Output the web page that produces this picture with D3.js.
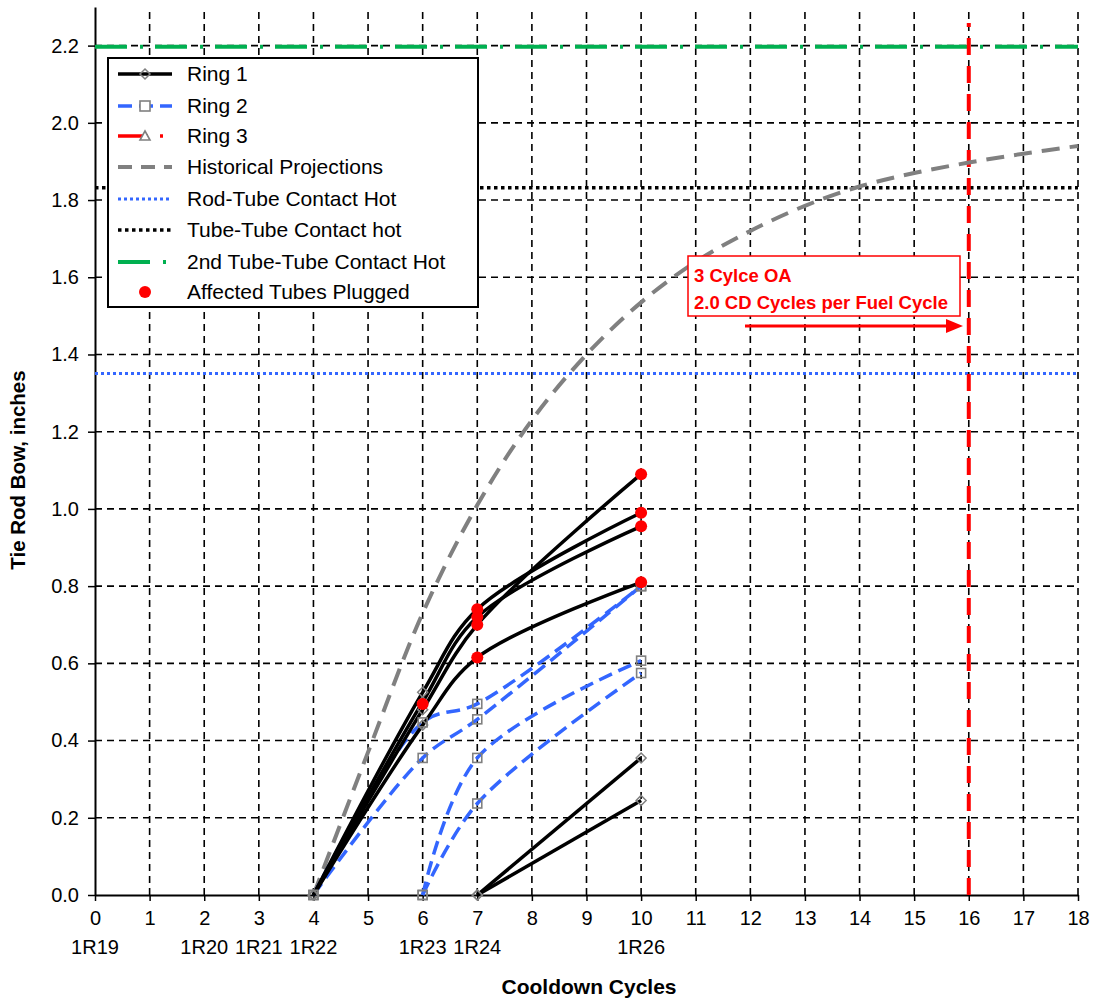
<!DOCTYPE html>
<html>
<head>
<meta charset="utf-8">
<script src="https://cdn.jsdelivr.net/npm/d3@7"></script>
<style>
  body { margin: 0; background: #fff; }
  text { font-family: "Liberation Sans", Arial, sans-serif; }
</style>
</head>
<body>
<div id="chart"></div>
<script>
// cooldown cycle ticks and the outage labels under them
var cycleTicks = d3.range(0, 19);
var outageCycles = [0, 2, 3, 4, 6, 7, 10];
var outageLabels = ["1R19", "1R20", "1R21", "1R22", "1R23", "1R24", "1R26"];
var bowTicks = [0, 0.2, 0.4, 0.6, 0.8, 1.0, 1.2, 1.4, 1.6, 1.8, 2.0, 2.2];

// Ring 1 tubes (black)
var ring1 = [
  { x: [4, 6, 7, 10], y: [0, 0.525, 0.74, 0.99] },
  { x: [4, 6, 7, 10], y: [0, 0.50, 0.72, 0.955] },
  { x: [4, 6, 7, 10], y: [0, 0.48, 0.70, 1.09] },
  { x: [4, 6, 7, 10], y: [0, 0.44, 0.615, 0.81] },
  { x: [7, 10], y: [0, 0.355] },
  { x: [7, 10], y: [0, 0.245] }
];

// Ring 2 tubes (blue dashed)
var ring2 = [
  { x: [4, 6, 7, 10], y: [0, 0.447, 0.495, 0.80] },
  { x: [4, 6, 7, 10], y: [0, 0.355, 0.455, 0.80] },
  { x: [6, 7, 10], y: [0, 0.355, 0.607] },
  { x: [6, 7, 10], y: [0, 0.237, 0.575] }
];

// historical projection curve
var histX = [4, 5, 6, 7, 8, 9, 10, 11, 12, 13, 14, 15, 16, 17, 18];
var histY = [0, 0.37, 0.73, 1.01, 1.23, 1.40, 1.535, 1.64, 1.72, 1.785, 1.835, 1.87, 1.897, 1.92, 1.94];

// plugged tubes
var plugX = [6, 7, 7, 7, 7, 10, 10, 10, 10];
var plugY = [0.495, 0.74, 0.72, 0.70, 0.615, 1.09, 0.99, 0.955, 0.81];

// contact limits
var rodTubeHot = 1.351;
var tubeTubeHot = 1.832;
var tubeTube2Hot = 2.197;
var oaCycle = 16;

var width = 1098, height = 1000;
var margin = { top: 7, right: 20, bottom: 105, left: 95 };

var svg = d3.select("#chart").append("svg")
  .attr("width", width)
  .attr("height", height);

var x = d3.scaleLinear().domain([0, 18]).range([margin.left, 1078]);
var y = d3.scaleLinear().domain([0, 2.3]).range([height - margin.bottom, margin.top]);

// grid
svg.append("g").selectAll("line")
  .data(cycleTicks.filter(function(d) { return d > 0; }))
  .enter().append("line")
  .attr("x1", function(d) { return x(d); })
  .attr("x2", function(d) { return x(d); })
  .attr("y1", y(0))
  .attr("y2", 12)
  .attr("stroke", "#000")
  .attr("stroke-width", 1.6)
  .attr("stroke-dasharray", "7,5");

svg.append("g").selectAll("line")
  .data(bowTicks.filter(function(d) { return d > 0; }))
  .enter().append("line")
  .attr("x1", x(0))
  .attr("x2", x(18))
  .attr("y1", function(d) { return y(d); })
  .attr("y2", function(d) { return y(d); })
  .attr("stroke", "#000")
  .attr("stroke-width", 1.6)
  .attr("stroke-dasharray", "7,5");

// axes
var xAxis = d3.axisBottom(x).tickValues(cycleTicks).tickSize(6).tickSizeOuter(0).tickFormat(d3.format("d"));
var yAxis = d3.axisLeft(y).tickValues(bowTicks).tickSize(7).tickSizeOuter(0).tickFormat(d3.format(".1f"));

var gx = svg.append("g")
  .attr("transform", "translate(0," + y(0) + ")")
  .call(xAxis);
gx.select(".domain").attr("stroke-width", 2);
gx.selectAll(".tick line").attr("stroke-width", 1.5);
gx.selectAll(".tick text").attr("font-size", 20).attr("y", 11).attr("dy", "0.95em").attr("fill", "#000")
  .style("font-family", "Liberation Sans, Arial, sans-serif");

var gy = svg.append("g")
  .attr("transform", "translate(" + x(0) + ",0)")
  .call(yAxis);
gy.select(".domain").attr("stroke-width", 2);
gy.selectAll(".tick line").attr("stroke-width", 1.5);
gy.selectAll(".tick text").attr("font-size", 20).attr("x", -16).attr("fill", "#000")
  .style("font-family", "Liberation Sans, Arial, sans-serif");

// outage labels
svg.append("g").selectAll("text")
  .data(outageCycles)
  .enter().append("text")
  .attr("x", function(d) { return x(d); })
  .attr("y", 954)
  .attr("text-anchor", "middle")
  .attr("font-size", 20)
  .text(function(d, i) { return outageLabels[i]; });

// axis titles
svg.append("text")
  .attr("x", 589)
  .attr("y", 994)
  .attr("text-anchor", "middle")
  .attr("font-size", 21)
  .attr("font-weight", "bold")
  .text("Cooldown Cycles");

svg.append("text")
  .attr("transform", "translate(25," + 470 + ") rotate(-90)")
  .attr("text-anchor", "middle")
  .attr("font-size", 20.5)
  .attr("font-weight", "bold")
  .text("Tie Rod Bow, inches");

// horizontal limits
function hline(v, color, w, dash) {
  svg.append("line")
    .attr("x1", x(0)).attr("x2", x(18))
    .attr("y1", y(v)).attr("y2", y(v))
    .attr("stroke", color)
    .attr("stroke-width", w)
    .attr("stroke-dasharray", dash);
}
hline(rodTubeHot, "#3366ff", 3, "3,3");
hline(tubeTubeHot, "#000", 3.5, "3.5,3.5");
hline(tubeTube2Hot, "#00b050", 4, "32,13,3,12");

// OA vertical
svg.append("line")
  .attr("x1", x(oaCycle)).attr("x2", x(oaCycle))
  .attr("y1", y(0)).attr("y2", 23)
  .attr("stroke", "#ff0000")
  .attr("stroke-width", 4)
  .attr("stroke-dasharray", "17,11");

var line = d3.line()
  .x(function(d) { return x(d[0]); })
  .y(function(d) { return y(d[1]); })
  .curve(d3.curveCatmullRom.alpha(0.5));

function pts(s) {
  return s.x.map(function(v, i) { return [v, s.y[i]]; });
}

// historical projection
svg.append("path")
  .attr("d", line(histX.map(function(v, i) { return [v, histY[i]]; })))
  .attr("fill", "none")
  .attr("stroke", "#808080")
  .attr("stroke-width", 4)
  .attr("stroke-dasharray", "18,10");

// ring 2
ring2.forEach(function(s) {
  svg.append("path")
    .attr("d", line(pts(s)))
    .attr("fill", "none")
    .attr("stroke", "#3366ff")
    .attr("stroke-width", 3.5)
    .attr("stroke-dasharray", "14,7");
});

// ring 1
ring1.forEach(function(s) {
  svg.append("path")
    .attr("d", line(pts(s)))
    .attr("fill", "none")
    .attr("stroke", "#000")
    .attr("stroke-width", 3.5);
});

function square(g, cx, cy) {
  g.append("rect")
    .attr("x", cx - 4.5).attr("y", cy - 4.5)
    .attr("width", 9).attr("height", 9)
    .attr("fill", "none")
    .attr("stroke", "#808080")
    .attr("stroke-width", 1.6);
}
function diamond(g, cx, cy) {
  g.append("path")
    .attr("d", "M" + cx + "," + (cy - 5) + "L" + (cx + 5) + "," + cy + "L" + cx + "," + (cy + 5) + "L" + (cx - 5) + "," + cy + "Z")
    .attr("fill", "none")
    .attr("stroke", "#808080")
    .attr("stroke-width", 1.5);
}

var markers = svg.append("g");
ring2.forEach(function(s) {
  pts(s).forEach(function(p) { square(markers, x(p[0]), y(p[1])); });
});
ring1.forEach(function(s) {
  pts(s).forEach(function(p) { diamond(markers, x(p[0]), y(p[1])); });
});

// plugged tubes
svg.append("g").selectAll("circle")
  .data(plugX)
  .enter().append("circle")
  .attr("cx", function(d) { return x(d); })
  .attr("cy", function(d, i) { return y(plugY[i]); })
  .attr("r", 6)
  .attr("fill", "#ff0000");

// annotation
svg.append("rect")
  .attr("x", 688).attr("y", 256)
  .attr("width", 272).attr("height", 60)
  .attr("fill", "#fff")
  .attr("stroke", "#ff0000")
  .attr("stroke-width", 1.5);
svg.append("text")
  .attr("x", 694).attr("y", 282)
  .attr("fill", "#ff0000")
  .attr("font-size", 18.5)
  .attr("font-weight", "bold")
  .text("3 Cylce OA");
svg.append("text")
  .attr("x", 694).attr("y", 309)
  .attr("fill", "#ff0000")
  .attr("font-size", 18.5)
  .attr("font-weight", "bold")
  .text("2.0 CD Cycles per Fuel Cycle");

svg.append("line")
  .attr("x1", 745).attr("x2", 948)
  .attr("y1", 326).attr("y2", 326)
  .attr("stroke", "#ff0000")
  .attr("stroke-width", 3);
svg.append("path")
  .attr("d", "M946,319L963,326L946,333Z")
  .attr("fill", "#ff0000");

// legend
var legend = svg.append("g");
legend.append("rect")
  .attr("x", 108).attr("y", 58)
  .attr("width", 370).attr("height", 249)
  .attr("fill", "#fff")
  .attr("stroke", "#000")
  .attr("stroke-width", 2);

var legendItems = [
  { name: "Ring 1", y: 74 },
  { name: "Ring 2", y: 106 },
  { name: "Ring 3", y: 136 },
  { name: "Historical Projections", y: 167 },
  { name: "Rod-Tube Contact Hot", y: 199 },
  { name: "Tube-Tube Contact hot", y: 230 },
  { name: "2nd Tube-Tube Contact Hot", y: 262 },
  { name: "Affected Tubes Plugged", y: 292 }
];
var lx1 = 118, lx2 = 172, lm = 145;

function seg(yy, color, w, dash) {
  legend.append("line")
    .attr("x1", lx1).attr("x2", lx2)
    .attr("y1", yy).attr("y2", yy)
    .attr("stroke", color)
    .attr("stroke-width", w)
    .attr("stroke-dasharray", dash || null);
}
var L = legendItems;
seg(L[0].y, "#000", 3.5);
diamond(legend, lm, L[0].y);
seg(L[1].y, "#3366ff", 3.5, "14,7");
legend.append("rect").attr("x", lm - 5).attr("y", L[1].y - 5).attr("width", 10).attr("height", 10)
  .attr("fill", "#fff").attr("stroke", "#808080").attr("stroke-width", 1.6);
seg(L[2].y, "#ff0000", 3.5, "30,12,3,12");
legend.append("path")
  .attr("d", "M" + lm + "," + (L[2].y - 5) + "L" + (lm + 5) + "," + (L[2].y + 4) + "L" + (lm - 5) + "," + (L[2].y + 4) + "Z")
  .attr("fill", "#fff").attr("stroke", "#808080").attr("stroke-width", 1.6);
seg(L[3].y, "#808080", 4, "14,9");
seg(L[4].y, "#3366ff", 3, "3,3");
seg(L[5].y, "#000", 3.5, "3.5,3.5");
seg(L[6].y, "#00b050", 4, "32,13,3,12");
legend.append("circle").attr("cx", lm).attr("cy", L[7].y).attr("r", 6).attr("fill", "#ff0000");

legend.selectAll("text.lbl")
  .data(legendItems)
  .enter().append("text")
  .attr("class", "lbl")
  .attr("x", 187)
  .attr("y", function(d) { return d.y + 7; })
  .attr("font-size", 21)
  .text(function(d) { return d.name; });
</script>
</body>
</html>
